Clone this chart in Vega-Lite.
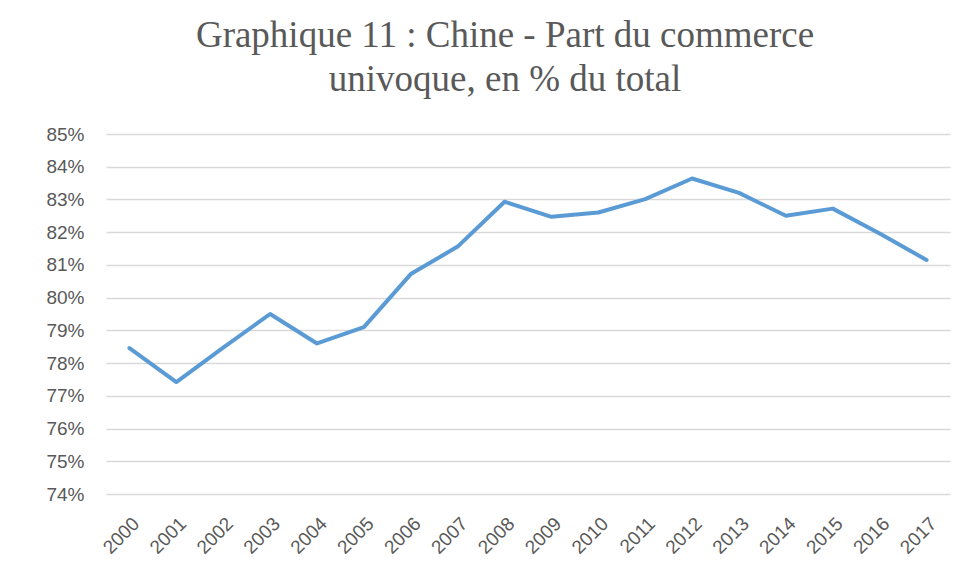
{
  "$schema": "https://vega.github.io/schema/vega-lite/v6.json",
  "autosize": "none",
  "width": 844,
  "height": 360,
  "padding": {"left": 106, "top": 134, "right": 15, "bottom": 82},
  "background": "white",
  "title": {
    "text": ["Graphique 11 : Chine - Part du commerce", "univoque, en % du total"],
    "font": "Liberation Serif",
    "fontSize": 37,
    "fontWeight": "normal",
    "color": "#595959",
    "anchor": "middle",
    "dx": -23,
    "offset": 26,
    "lineHeight": 44
  },
  "data": {
    "values": [
      {"annee": "2000", "part": 78.46},
      {"annee": "2001", "part": 77.42},
      {"annee": "2002", "part": 78.47},
      {"annee": "2003", "part": 79.5},
      {"annee": "2004", "part": 78.6},
      {"annee": "2005", "part": 79.1},
      {"annee": "2006", "part": 80.72},
      {"annee": "2007", "part": 81.56},
      {"annee": "2008", "part": 82.93},
      {"annee": "2009", "part": 82.47},
      {"annee": "2010", "part": 82.6},
      {"annee": "2011", "part": 83.01},
      {"annee": "2012", "part": 83.64},
      {"annee": "2013", "part": 83.2},
      {"annee": "2014", "part": 82.5},
      {"annee": "2015", "part": 82.72},
      {"annee": "2016", "part": 81.96},
      {"annee": "2017", "part": 81.15}
    ]
  },
  "mark": {"type": "line", "color": "#5b9bd5", "strokeWidth": 4, "strokeCap": "round", "strokeJoin": "round"},
  "encoding": {
    "x": {
      "field": "annee",
      "type": "ordinal",
      "scale": {"paddingInner": 0, "paddingOuter": 0.5},
      "axis": {
        "title": null,
        "domain": false,
        "ticks": false,
        "grid": false,
        "labelAngle": -45,
        "labelAlign": "right",
        "labelBaseline": "top",
        "labelPadding": 20,
        "labelFont": "Liberation Sans",
        "labelFontSize": 19,
        "labelColor": "#595959"
      }
    },
    "y": {
      "field": "part",
      "type": "quantitative",
      "scale": {"domain": [74, 85], "nice": false, "zero": false},
      "axis": {
        "title": null,
        "values": [74, 75, 76, 77, 78, 79, 80, 81, 82, 83, 84, 85],
        "labelExpr": "datum.value + '%'",
        "domain": false,
        "ticks": false,
        "grid": true,
        "gridColor": "#d9d9d9",
        "gridWidth": 1.5,
        "labelPadding": 22,
        "labelFont": "Liberation Sans",
        "labelFontSize": 19,
        "labelColor": "#595959"
      }
    }
  },
  "config": {"view": {"stroke": null}}
}
